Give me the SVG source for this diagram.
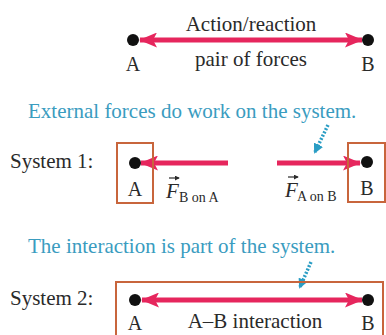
<svg xmlns="http://www.w3.org/2000/svg" width="386" height="335" viewBox="0 0 386 335">
<style>
text{font-family:"Liberation Serif","Times New Roman",serif;fill:#2a2a2a}
.t{font-size:21px}
.cap{font-size:20px}
.teal{fill:#3a9cbf;font-size:21px}
.sub{font-size:14px}
.force{stroke:#e6265d;stroke-width:5;fill:none}
.box{fill:none;stroke:#c8653c;stroke-width:2}
.dot{fill:#111}
.dash{stroke:#2a9dc4;stroke-width:3.5;stroke-dasharray:2 1.6;fill:none}
.vec{stroke:#2a2a2a;stroke-width:1.2;fill:none}
</style>
<defs>
<marker id="ah" viewBox="0 0 18 15" refX="17" refY="7.5" markerWidth="18" markerHeight="15" markerUnits="userSpaceOnUse" orient="auto-start-reverse">
<path d="M0,0 L18,7.5 L0,15 L4,7.5 Z" fill="#e6265d"/>
</marker>
<marker id="dh" viewBox="0 0 10 10" refX="8" refY="5" markerWidth="10" markerHeight="10" markerUnits="userSpaceOnUse" orient="auto">
<path d="M0,0 L10,5 L0,10 Z" fill="#2a9dc4"/>
</marker>
<marker id="vh" viewBox="0 0 6 6" refX="5" refY="3" markerWidth="5" markerHeight="5" markerUnits="userSpaceOnUse" orient="auto">
<path d="M0,0 L6,3 L0,6 Z" fill="#2a2a2a"/>
</marker>
</defs>

<g id="connectors">
<line class="force" x1="140" y1="40" x2="362" y2="40" marker-start="url(#ah)" marker-end="url(#ah)"/>
<line class="force" x1="228" y1="163" x2="141" y2="163" marker-end="url(#ah)"/>
<line class="force" x1="277" y1="163" x2="360" y2="163" marker-end="url(#ah)"/>
<line class="force" x1="142" y1="300" x2="362" y2="300" marker-start="url(#ah)" marker-end="url(#ah)"/>
<line class="dash" x1="328" y1="125" x2="315" y2="152" marker-end="url(#dh)"/>
<line class="dash" x1="311" y1="262" x2="300" y2="287" marker-end="url(#dh)"/>
</g>

<g id="top-pair">
<circle class="dot" cx="133" cy="40" r="6"/>
<circle class="dot" cx="368" cy="40" r="6"/>
<text class="cap" x="133" y="71" text-anchor="middle">A</text>
<text class="cap" x="368" y="71" text-anchor="middle">B</text>
<text class="t" x="251" y="31" text-anchor="middle">Action/reaction</text>
<text class="t" x="251" y="66" text-anchor="middle">pair of forces</text>
</g>

<g id="system1">
<text class="teal" x="28" y="118">External forces do work on the system.</text>
<text class="t" x="10" y="168">System 1:</text>
<g id="box-a">
<rect class="box" x="117" y="143" width="36" height="60"/>
<circle class="dot" cx="135" cy="163" r="6"/>
<text class="cap" x="135" y="196" text-anchor="middle">A</text>
</g>
<g id="box-b">
<rect class="box" x="348" y="143" width="37" height="59"/>
<circle class="dot" cx="367" cy="162" r="6"/>
<text class="cap" x="367" y="195" text-anchor="middle">B</text>
</g>
<g id="label-fba">
<text x="166" y="198" font-size="21" font-style="italic">F</text>
<text class="sub" x="179" y="202">B on A</text>
<line class="vec" x1="169" y1="178" x2="179" y2="178" marker-end="url(#vh)"/>
</g>
<g id="label-fab">
<text x="285" y="197" font-size="21" font-style="italic">F</text>
<text class="sub" x="297" y="201">A on B</text>
<line class="vec" x1="288" y1="177" x2="298" y2="177" marker-end="url(#vh)"/>
</g>
</g>

<g id="system2">
<text class="teal" x="28" y="253">The interaction is part of the system.</text>
<text class="t" x="10" y="305">System 2:</text>
<rect class="box" x="116" y="282" width="267" height="60"/>
<circle class="dot" cx="135" cy="300" r="6"/>
<circle class="dot" cx="368" cy="300" r="6"/>
<text class="cap" x="135" y="330" text-anchor="middle">A</text>
<text class="cap" x="368" y="330" text-anchor="middle">B</text>
<text class="t" x="255" y="328" text-anchor="middle">A–B interaction</text>
</g>
</svg>
